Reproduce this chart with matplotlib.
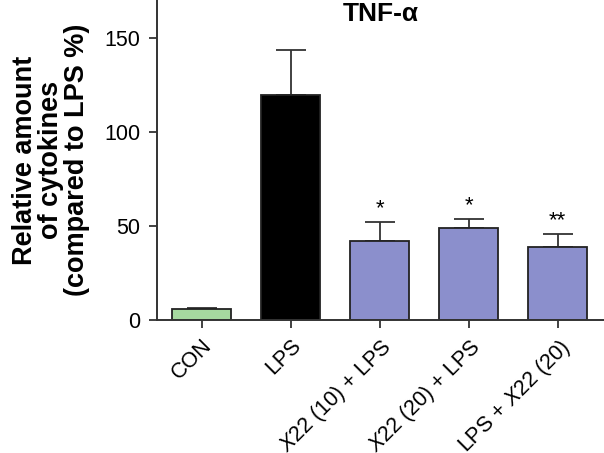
import numpy as np
import matplotlib
matplotlib.use("Agg")
import matplotlib.pyplot as plt

plt.rcParams['font.family'] = ['Liberation Sans', 'DejaVu Sans']
plt.rcParams['mathtext.fontset'] = 'custom'
plt.rcParams['mathtext.rm'] = 'Liberation Sans'
plt.rcParams['mathtext.it'] = 'Liberation Sans:italic'

# data
groups = ["CON", "LPS", r"$\mathit{X}$22 (10) + LPS", r"$\mathit{X}$22 (20) + LPS", r"LPS + $\mathit{X}$22 (20)"]
means = [5.9, 119.3, 42.2, 48.8, 38.8]
errs = [0.5, 24.0, 9.8, 4.9, 6.8]
stars = ["", "", "*", "*", "**"]
colors = ["#a6d9a0", "#000000", "#8b8fcc", "#8b8fcc", "#8b8fcc"]

fig = plt.figure(figsize=(6.04, 4.53), dpi=100)
ax = fig.add_axes([0.26, 0.2936, 0.74, 0.7064])

x = np.arange(len(groups))
ax.bar(x, means, width=0.665, color=colors, edgecolor="#222222", linewidth=1.3, zorder=2)
ax.errorbar(x, means, yerr=[np.zeros(len(errs)), errs], fmt="none",
            ecolor="#333333", elinewidth=1.3, capsize=10.5, capthick=1.3, zorder=1)

for xi, m, e, s in zip(x, means, errs, stars):
    if s:
        ax.text(xi, m + e + 1.5, s, ha="center", va="bottom", fontsize=16)

ax.set_xlim(-0.5, 4.52)
ax.set_ylim(0, 170)
ax.set_yticks([0, 50, 100, 150])
ax.set_xticks(x)
ax.set_xticklabels(groups, rotation=45, ha="right", rotation_mode="anchor")

ax.tick_params(axis="both", labelsize=15.5, length=6, width=1.3, color="#333333")
ax.tick_params(axis="y", pad=6)
ax.tick_params(axis="x", pad=5)
for sp in ["top", "right"]:
    ax.spines[sp].set_visible(False)
for sp in ["left", "bottom"]:
    ax.spines[sp].set_linewidth(1.4)
    ax.spines[sp].set_color("#333333")

ax.set_ylabel("Relative amount\nof cytokines\n(compared to LPS %)", fontsize=19.5,
              fontweight="bold", linespacing=1.0, labelpad=10)
fig.text(0.63, 0.968, "TNF-α", ha="center", va="center", fontsize=19, fontweight="bold")

fig.savefig("out.png", dpi=100)
